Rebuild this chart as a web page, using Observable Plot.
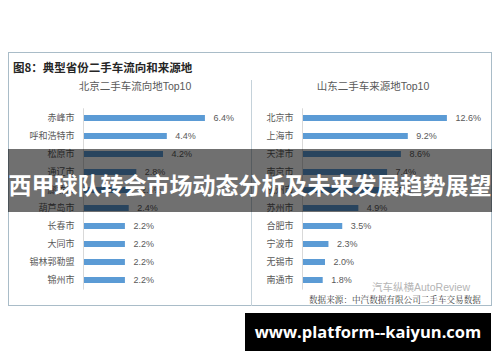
<!DOCTYPE html>
<html><head><meta charset="utf-8">
<script src="https://cdn.jsdelivr.net/npm/d3@7"></script>
<script src="https://cdn.jsdelivr.net/npm/@observablehq/plot@0.6"></script>
<style>
html,body{margin:0;padding:0;background:#fff;}
#wrap{position:relative;width:500px;height:362px;overflow:hidden;background:#fff;font-family:"Liberation Sans","Noto Sans CJK SC",sans-serif;}
.abs{position:absolute;}
#frame{left:8px;top:52px;width:482px;height:252px;border:1.5px solid #a9bcc8;box-sizing:content-box;}
#divider{left:251px;top:80px;width:1px;height:226px;background:#c5d2da;}
#title{left:13px;top:59px;font:bold 11.5px "Noto Sans CJK SC",sans-serif;color:#262626;white-space:nowrap;}
.sub{top:78px;width:200px;text-align:center;font:10.5px "Liberation Sans","Noto Sans CJK SC",sans-serif;color:#595959;white-space:nowrap;}
#overlay{left:8px;top:149px;width:484px;height:63px;background:rgba(0,0,0,0.56);}
#banner{left:0;top:168px;width:500px;text-align:center;font:bold 23px "Noto Sans CJK SC",sans-serif;color:#fff;white-space:nowrap;line-height:32px;}
#footer{left:245px;top:313px;width:246px;height:38px;background:#000;color:#fff;font:bold 16.5px "Open Sans",sans-serif;text-align:center;line-height:38px;white-space:nowrap;}
#wm{left:372px;top:279px;font:10.5px "Liberation Sans","Noto Sans CJK SC",sans-serif;color:#b5b5b5;white-space:nowrap;}
#src{left:309px;top:293px;font:8.6px "Noto Serif CJK SC","Noto Sans CJK SC",serif;color:#404040;white-space:nowrap;}
svg{position:absolute;left:0;top:0;}
</style></head>
<body><div id="wrap">
<div id="frame" class="abs"></div>
<div id="divider" class="abs"></div>
<div id="title" class="abs">图8：典型省份二手车流向和来源地</div>
<div id="subL" class="abs sub" style="left:35px">北京二手车流向地Top10</div>
<div id="subR" class="abs sub" style="left:273px">山东二手车来源地Top10</div>
<div id="wm" class="abs">汽车纵横AutoReview</div>
<div id="src" class="abs">数据来源：中汽数据有限公司二手车交易数据</div>
<div id="overlay" class="abs"></div>
<div id="banner" class="abs">西甲球队转会市场动态分析及未来发展趋势展望</div>
<div id="footer" class="abs">www.platform--kaiyun.com</div>
</div>
<script>
const beijingCities = ["赤峰市","呼和浩特市","松原市","通辽市","廊坊市","葫芦岛市","长春市","大同市","锡林郭勒盟","锦州市"];
const beijingShares = [6.4, 4.4, 4.2, 2.8, 2.6, 2.4, 2.2, 2.2, 2.2, 2.2];
const shandongCities = ["北京市","上海市","天津市","南京市","杭州市","苏州市","合肥市","宁波市","无锡市","南通市"];
const shandongShares = [12.6, 9.2, 8.6, 7.4, 7.0, 4.9, 3.5, 2.3, 2.0, 1.8];

function panel(cities, shares, xMax, mLeft, mRight) {
  const data = cities.map((c, i) => ({city: c, share: shares[i]}));
  return Plot.plot({
    width: 500, height: 362,
    marginLeft: mLeft, marginRight: mRight, marginTop: 108.3, marginBottom: 72.4,
    style: {background: "transparent", fontFamily: '"Liberation Sans","Noto Sans CJK SC",sans-serif', fontSize: "9px", color: "#595959"},
    x: {domain: [0, xMax], axis: null},
    y: {domain: cities, paddingInner: 0.64, paddingOuter: 0.3, tickSize: 0, tickPadding: 9, label: null},
    marks: [
      Plot.barX(data, {x: "share", y: "city", fill: "#5b9bd5"}),
      Plot.ruleX([0], {stroke: "#d9d9d9", strokeWidth: 1}),
      Plot.text(data, {x: "share", y: "city", text: d => d.share.toFixed(1) + "%", textAnchor: "start", dx: 8, fill: "#595959", fontSize: 9})
    ]
  });
}
const wrap = document.getElementById("wrap");
const left = panel(beijingCities, beijingShares, 8, 83, 500 - (83 + 8 * 19.05));
const right = panel(shandongCities, shandongShares, 14, 302, 500 - (302 + 14 * 11.5));
const overlay = document.getElementById("overlay");
wrap.insertBefore(left, overlay);
wrap.insertBefore(right, overlay);
</script>
</body></html>
